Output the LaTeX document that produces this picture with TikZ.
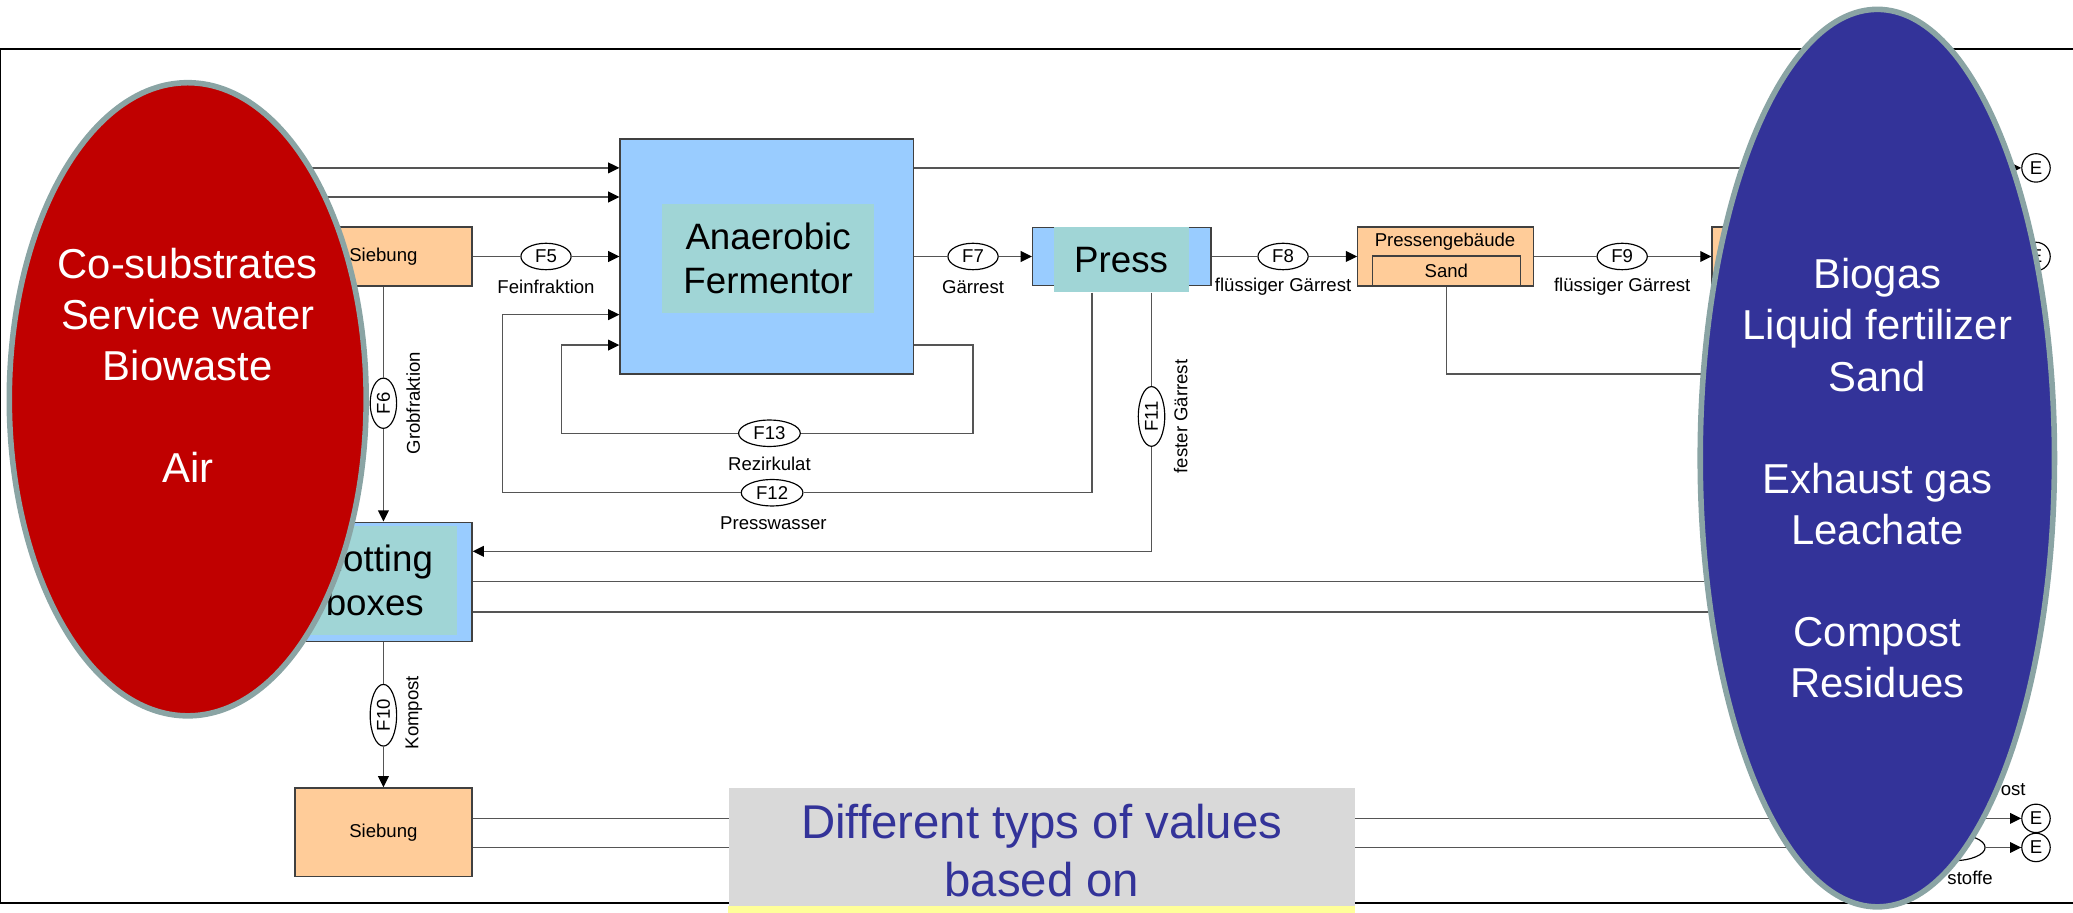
\documentclass[tikz,border=0pt]{standalone}
\usepackage{fontspec}
\setmainfont{Liberation Sans}
\usepackage{tikz}
\usetikzlibrary{shapes.geometric, arrows.meta}
\tikzstyle{plan} = [x = 0.02cm, y = -0.02cm]
\definecolor{lineColor}{RGB}{85,85,85}
\definecolor{boxLineColor}{RGB}{64,64,64}
\definecolor{orangeFill}{RGB}{255,204,153}
\definecolor{blueFill}{RGB}{153,204,255}
\definecolor{tealFill}{RGB}{160,213,214}
\definecolor{inputRed}{RGB}{192,0,0}
\definecolor{outputBlue}{RGB}{51,51,153}
\definecolor{rimColor}{RGB}{138,164,164}
\definecolor{noteGray}{RGB}{217,217,217}
\definecolor{noteYellow}{RGB}{255,255,153}
\newcommand{\smallFont}{\fontsize{8}{9.6}\selectfont}
\newcommand{\unitFont}{\fontsize{15.8}{19}\selectfont}
\newcommand{\bigFont}{\fontsize{18}{22}\selectfont}
\newcommand{\noteFont}{\fontsize{20.4}{25}\selectfont}
\tikzstyle{frameLine} = [color=black, line width=0.6pt]
\tikzstyle{flowLine} = [color=lineColor, line width=0.6pt]
\tikzstyle{flowArrow} = [flowLine, -{Triangle[length=4.8pt, width=4.6pt, color=black]}]
\tikzstyle{flowStyle} = [ellipse, draw=black, fill=white, line width=0.5pt, font=\smallFont, inner xsep=2.5pt, inner ysep=0.5pt, minimum width=0.76cm, minimum height=0.4cm]
\tikzstyle{flowText} = [font=\smallFont, inner sep=0pt]
\tikzstyle{stepBox} = [draw=boxLineColor, fill=orangeFill, line width=0.6pt, font=\smallFont, minimum width=2.68cm, minimum height=0.89cm]
\tikzstyle{unitBox} = [draw=boxLineColor, fill=blueFill, line width=0.6pt]
\tikzstyle{unitCore} = [fill=tealFill, font=\unitFont, align=center]
\tikzstyle{sinkStyle} = [circle, draw=black, fill=white, line width=0.5pt, font=\smallFont, inner sep=0pt, minimum size=0.43cm]
\tikzstyle{noteStyle} = [fill=noteGray, minimum width=9.48cm, minimum height=1.78cm, inner sep=0pt]
\tikzstyle{noteText} = [text=outputBlue, font=\noteFont, align=center, inner sep=0pt]
\tikzstyle{massEllipse} = [ellipse, draw=rimColor, line width=2.4pt]
\tikzstyle{massText} = [text=white, font=\bigFont, align=center]
\newcommand{\flowNode}[3]{\node [flowStyle] (#1) at (#2) {#3};}
\newcommand{\flowNodeUp}[3]{\node [flowStyle, rotate=90] (#1) at (#2) {#3};}
\newcommand{\flowName}[3]{\node [flowText] (#1) at (#2) {#3};}
\newcommand{\flowNameUp}[3]{\node [flowText, rotate=90] (#1) at (#2) {#3};}
\newcommand{\sinkNode}[2]{\node [sinkStyle] (#1) at (#2) {E};}
\begin{document}
\begin{tikzpicture}[plan]
        \useasboundingbox (0,0) rectangle (1568,690);
        \draw [frameLine] (1568,37) -- (0.5,37) -- (0.5,683) -- (1568,683);

        % units
        \node [stepBox] (siebTop) at (290,194) {Siebung};
        \node [unitBox, minimum width=4.44cm, minimum height=3.56cm] (ferm) at (580,194) {};
        \node [unitCore, minimum width=3.2cm, minimum height=1.66cm] (fermCore) at (581,195.5) {Anaerobic\\Fermentor};
        \node [unitBox, minimum width=2.7cm, minimum height=0.88cm] (press) at (848.5,194) {};
        \node [unitCore, minimum width=2.04cm, minimum height=0.98cm] (pressCore) at (848,196.5) {Press};
        \node [stepBox, minimum width=2.66cm] (presshall) at (1093.5,194) {};
        \node [stepBox, minimum width=2.24cm, minimum height=0.45cm] (presshallSand) at (1094,205) {Sand};
        \flowName{presshallName}{1093,183}{Pressengebäude}
        \node [stepBox] (tank) at (1362,194) {};
        \node [unitBox, minimum width=2.68cm, minimum height=1.8cm] (rot) at (290,440) {};
        \node [unitCore, minimum width=2.5cm, minimum height=1.66cm] (rotCore) at (283.5,439) {Rotting\\boxes};
        \node [stepBox, minimum height=1.34cm] (siebBottom) at (290,629.5) {Siebung};

        % flows
        \flowNode{fFive}{413,194}{F5}
        \flowNode{fSeven}{736,194}{F7}
        \flowNode{fEight}{970.5,194}{F8}
        \flowNode{fNine}{1227,194}{F9}
        \flowNode{fThirteen}{582,327.7}{F13}
        \flowNode{fTwelve}{584,372.7}{F12}
        \flowNodeUp{fSix}{290,305}{F6}
        \flowNodeUp{fTen}{290,541}{F10}
        \flowNodeUp{fEleven}{871,315}{F11}
        \node [flowStyle, minimum width=0.96cm] (fRest) at (1477.5,641) {};
        \sinkNode{eOne}{1540,127}
        \sinkNode{eTwo}{1540,194}
        \sinkNode{eThree}{1540,619}
        \sinkNode{eFour}{1540,641}

        \coordinate (inOne) at (150,127);
        \coordinate (inTwo) at (150,149);
        \coordinate (rezIn) at (424.5,261);
        \coordinate (rezRight) at (736,327.7);
        \coordinate (rezLeft) at (424.5,327.7);
        \coordinate (pwIn) at (380,238);
        \coordinate (pwRight) at (826,372.7);
        \coordinate (pwLeft) at (380,372.7);
        \coordinate (solidCorner) at (871,417);
        \coordinate (sandEnd) at (1420,283);
        \coordinate (rotOutA) at (1420,440);
        \coordinate (rotOutB) at (1420,463);

        \draw [flowArrow] (inOne) -- (ferm.west |- inOne);
        \draw [flowArrow] (inTwo) -- (ferm.west |- inTwo);
        \draw [flowArrow] (siebTop) -- (fFive) -- (ferm);
        \draw [flowArrow] (ferm) -- (fSeven) -- (press);
        \draw [flowArrow] (press) -- (fEight) -- (presshall);
        \draw [flowArrow] (presshall) -- (fNine) -- (tank);
        \draw [flowArrow] (tank) -- (eTwo);
        \draw [flowArrow] (ferm.east |- eOne) -- (eOne);
        \draw [flowArrow] (ferm.east |- rezIn) -| (rezRight) -- (fThirteen) -- (rezLeft) -- (rezIn) -- (ferm.west |- rezIn);
        \draw [flowArrow] (pressCore.south -| pwRight) -- (pwRight) -- (fTwelve) -- (pwLeft) -- (pwIn) -- (ferm.west |- pwIn);
        \draw [flowArrow] (pressCore.south -| fEleven) -- (fEleven) -- (solidCorner) -- (rot.east |- solidCorner);
        \draw [flowArrow] (siebTop) -- (fSix) -- (rot);
        \draw [flowArrow] (rot) -- (fTen) -- (siebBottom);
        \draw [flowLine] (presshallSand.south) |- (sandEnd);
        \draw [flowLine] (rot.east |- rotOutA) -- (rotOutA);
        \draw [flowLine] (rot.east |- rotOutB) -- (rotOutB);
        \draw [flowArrow] (siebBottom.east |- eThree) -- (eThree);
        \draw [flowArrow] (siebBottom.east |- eFour) -- (fRest) -- (eFour);

        \flowName{fFiveName}{413,216.6}{Feinfraktion}
        \flowName{fSevenName}{736,216.8}{Gärrest}
        \flowName{fEightName}{970.5,216.8}{flüssiger Gärrest}
        \flowName{fNineName}{1227,216.8}{flüssiger Gärrest}
        \flowName{fThirteenName}{582,351}{Rezirkulat}
        \flowName{fTwelveName}{585,396}{Presswasser}
        \flowNameUp{fSixName}{312.5,305}{Grobfraktion}
        \flowNameUp{fTenName}{313,539}{Kompost}
        \flowNameUp{fElevenName}{893,315}{fester Gärrest}
        \node [flowText, anchor=east] (restTopName) at (1532.5,597.6) {ost};
        \node [flowText, anchor=east] (restBottomName) at (1507.5,664) {stoffe};

        % note
        \node [noteStyle] (note) at (788,640.5) {};
        \fill [noteYellow] (note.south west) rectangle ++(474,6);
        \node [noteText] (noteLines) at (788,643.5) {Different typs of values\\based on};

        % masses
        \node [massEllipse, fill=inputRed, minimum width=5.4cm, minimum height=9.58cm] (inputs) at (142,302) {};
        \node [massText] (inputsText) at (142,276.5) {Co-substrates\\Service water\\Biowaste\\[22pt]Air};
        \node [massEllipse, fill=outputBlue, minimum width=5.36cm, minimum height=13.58cm] (outputs) at (1420,346.5) {};
        \node [massText] (outputsText) at (1420,361.8) {Biogas\\Liquid fertilizer\\Sand\\[22pt]Exhaust gas\\Leachate\\[22pt]Compost\\Residues};
      \end{tikzpicture}
\end{document}
